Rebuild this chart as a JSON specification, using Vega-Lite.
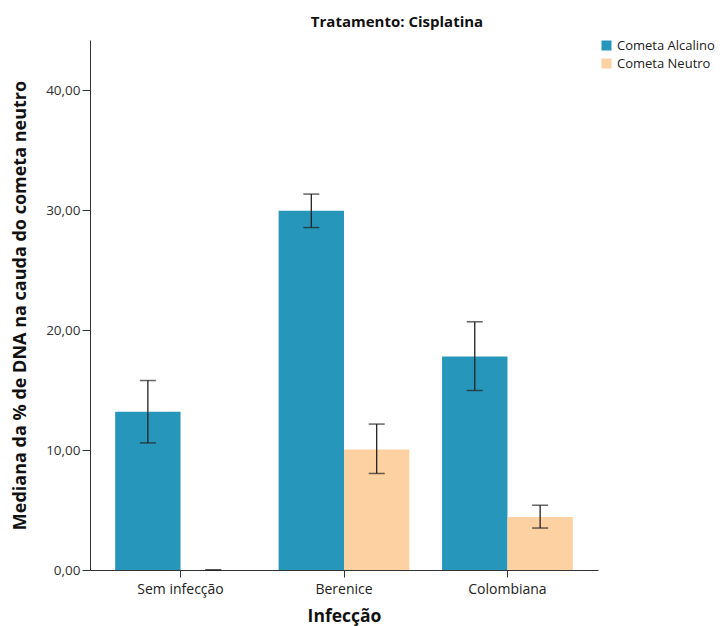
{
  "$schema": "https://vega.github.io/schema/vega-lite/v6.json",
  "autosize": "none",
  "width": 508,
  "height": 530,
  "padding": {"left": 90, "top": 40, "right": 125, "bottom": 56},
  "background": "white",
  "title": {"text": "Tratamento: Cisplatina", "fontSize": 15, "fontWeight": "bold", "font": "Open Sans", "color": "#111", "anchor": "middle", "dx": 53, "offset": 9},
  "config": {
    "locale": {"number": {"decimal": ",", "thousands": ".", "grouping": [3], "currency": ["", ""]}},
    "view": {"stroke": null},
    "font": "Open Sans"
  },
  "data": {"values": [
    {"infeccao": "Sem infecção", "tipo": "Cometa Alcalino", "mediana": 13.2, "lo": 10.6, "hi": 15.8},
    {"infeccao": "Sem infecção", "tipo": "Cometa Neutro", "mediana": 0.0, "lo": 0.0, "hi": 0.0},
    {"infeccao": "Berenice", "tipo": "Cometa Alcalino", "mediana": 29.95, "lo": 28.56, "hi": 31.35},
    {"infeccao": "Berenice", "tipo": "Cometa Neutro", "mediana": 10.05, "lo": 8.05, "hi": 12.17},
    {"infeccao": "Colombiana", "tipo": "Cometa Alcalino", "mediana": 17.8, "lo": 14.97, "hi": 20.7},
    {"infeccao": "Colombiana", "tipo": "Cometa Neutro", "mediana": 4.42, "lo": 3.5, "hi": 5.4}
  ]},
  "encoding": {
    "x": {
      "field": "infeccao", "type": "nominal",
      "sort": ["Sem infecção", "Berenice", "Colombiana"],
      "scale": {"paddingInner": 0.2, "paddingOuter": 0.154},
      "axis": {
        "title": "Infecção", "titleFontSize": 17.5, "titleFontWeight": "bold", "titleColor": "#111", "titlePadding": 11,
        "labelAngle": 0, "labelFontSize": 14, "labelColor": "#222", "labelPadding": 5,
        "domainColor": "#333", "tickColor": "#333", "tickSize": 7, "grid": false
      }
    },
    "xOffset": {"field": "tipo", "type": "nominal", "sort": ["Cometa Alcalino", "Cometa Neutro"]}
  },
  "layer": [
    {
      "mark": {"type": "bar"},
      "encoding": {
        "y": {
          "field": "mediana", "type": "quantitative",
          "scale": {"domain": [0, 44.2], "nice": false},
          "axis": {
            "title": "Mediana da % de DNA na cauda do cometa neutro", "titleFontSize": 18, "titleFontWeight": "bold", "titleColor": "#111", "titlePadding": 16,
            "values": [0, 10, 20, 30, 40], "format": ".2f",
            "labelFontSize": 13.5, "labelColor": "#333", "labelPadding": 2,
            "domainColor": "#333", "tickColor": "#333", "tickSize": 8, "grid": false
          }
        },
        "color": {
          "field": "tipo", "type": "nominal",
          "scale": {"domain": ["Cometa Alcalino", "Cometa Neutro"], "range": ["#2697ba", "#fdd1a2"]},
          "legend": {
            "title": null, "orient": "none", "legendX": 510, "legendY": -1,
            "symbolType": "square", "symbolSize": 100, "symbolStrokeWidth": 0, "symbolOpacity": 1,
            "labelFontSize": 13, "labelColor": "#222", "rowPadding": 4, "labelOffset": 4
          }
        }
      }
    },
    {
      "mark": {"type": "rule", "color": "#222", "strokeWidth": 1.3},
      "encoding": {
        "y": {"field": "lo", "type": "quantitative"},
        "y2": {"field": "hi"}
      }
    },
    {
      "mark": {"type": "tick", "color": "#222", "thickness": 1.5, "size": 16, "orient": "horizontal"},
      "encoding": {"y": {"field": "lo", "type": "quantitative"}}
    },
    {
      "mark": {"type": "tick", "color": "#222", "thickness": 1.5, "size": 16, "orient": "horizontal"},
      "encoding": {"y": {"field": "hi", "type": "quantitative"}}
    }
  ]
}
